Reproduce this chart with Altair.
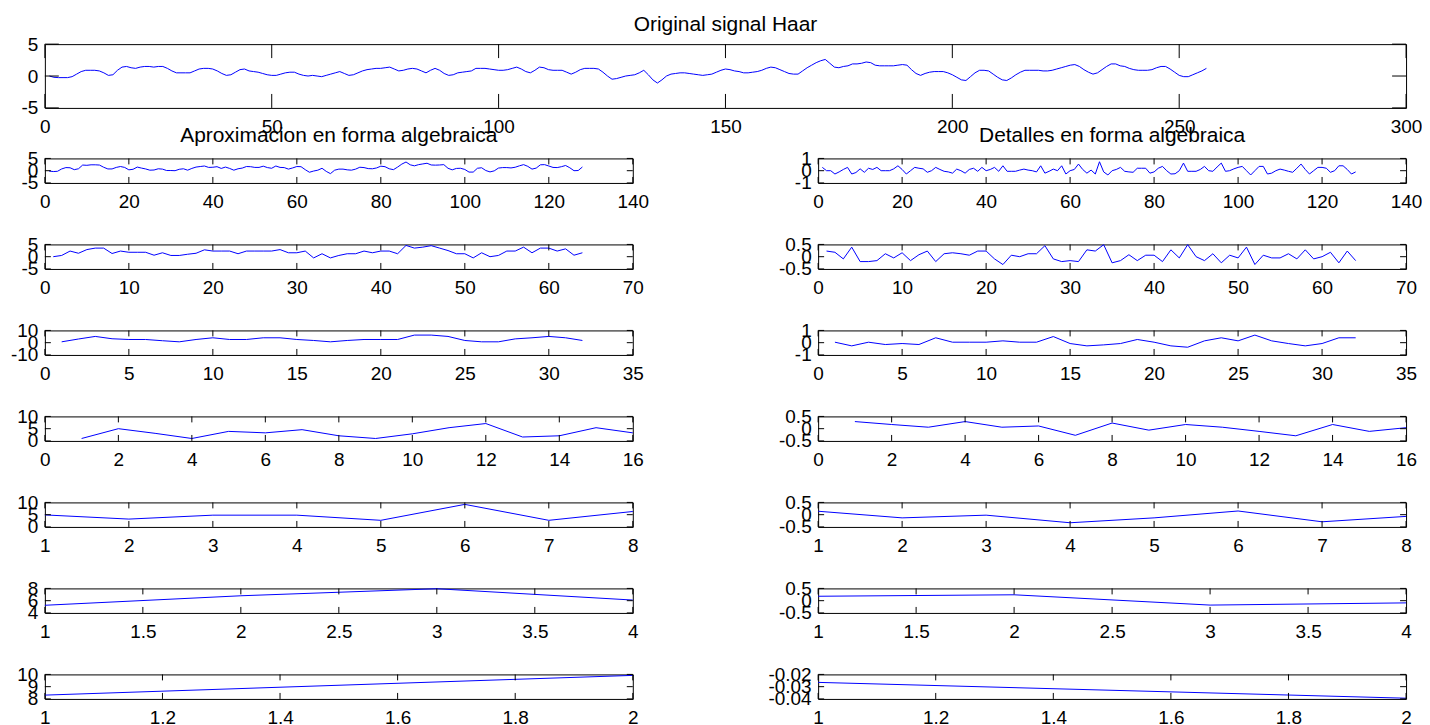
import altair as alt
import pandas as pd

# ---------------- data ----------------
original = [
    0.0, -0.2, -0.25, -0.25, -0.25, -0.1, 0.3, 0.7, 0.9, 0.9,
    0.9, 0.8, 0.5, 0.1, 0.2, 0.9, 1.4, 1.5, 1.3, 1.2,
    1.4, 1.5, 1.5, 1.4, 1.5, 1.5, 1.2, 0.8, 0.5, 0.5,
    0.5, 0.5, 0.8, 1.1, 1.2, 1.2, 1.1, 0.8, 0.4, 0.1,
    0.2, 0.6, 1.0, 1.1, 0.8, 0.7, 0.6, 0.4, 0.2, 0.1,
    0.1, 0.3, 0.5, 0.6, 0.6, 0.3, 0.1, 0.0, 0.1, 0.0,
    -0.1, 0.1, 0.3, 0.5, 0.7, 0.4, 0.1, 0.2, 0.5, 0.8,
    1.0, 1.1, 1.2, 1.2, 1.3, 1.4, 1.1, 0.8, 0.9, 1.1,
    1.2, 1.1, 0.8, 0.5, 0.9, 1.2, 0.9, 0.4, 0.1, 0.2,
    0.5, 0.6, 0.7, 0.8, 1.2, 1.2, 1.2, 1.1, 1.0, 0.9,
    0.9, 1.0, 1.2, 1.4, 1.1, 0.7, 0.5, 0.9, 1.4, 1.3,
    1.0, 0.9, 0.9, 0.9, 0.6, 0.3, 0.6, 1.0, 1.2, 1.2,
    1.2, 1.1, 0.6, 0.0, -0.5, -0.4, -0.2, 0.0, 0.1, 0.2,
    0.5, 0.9, 0.2, -0.6, -1.1, -0.6, 0.0, 0.3, 0.4, 0.5,
    0.5, 0.4, 0.3, 0.2, 0.1, 0.2, 0.3, 0.6, 0.9, 1.1,
    1.0, 0.8, 0.7, 0.5, 0.5, 0.6, 0.7, 0.9, 1.2, 1.4,
    1.3, 1.0, 0.7, 0.4, 0.3, 0.3, 0.8, 1.3, 1.7, 2.1,
    2.4, 2.6, 2.0, 1.4, 1.3, 1.5, 1.6, 1.9, 1.9, 2.0,
    2.2, 2.1, 1.7, 1.6, 1.6, 1.6, 1.6, 1.7, 1.8, 1.7,
    1.0, 0.4, 0.1, 0.4, 0.6, 0.7, 0.7, 0.7, 0.5, 0.2,
    -0.2, -0.6, -0.7, -0.1, 0.5, 0.9, 0.9, 0.8, 0.3, -0.2,
    -0.6, -0.7, -0.3, 0.2, 0.6, 0.9, 0.9, 0.9, 0.9, 0.8,
    0.8, 0.9, 1.1, 1.3, 1.5, 1.7, 1.8, 1.5, 1.0, 0.6,
    0.3, 0.5, 1.0, 1.5, 1.9, 1.9, 1.6, 1.5, 1.2, 1.0,
    0.9, 0.9, 0.9, 1.0, 1.3, 1.5, 1.5, 1.1, 0.6, 0.1,
    -0.1, -0.1, 0.2, 0.5, 0.8, 1.2,
]

a1 = [
    -0.14, -0.35, -0.25, 0.71, 1.27, 1.2, 0.42, 0.78, 2.3, 2.2,
    2.4, 2.4, 2.3, 1.41, 0.71, 0.71, 1.34, 1.7, 1.34, 0.35,
    0.57, 1.48, 1.06, 0.71, 0.21, 0.28, 0.78, 0.64, 0.07, 0.07,
    0.0, 0.57, 0.78, 0.21, 0.92, 1.48, 1.7, 1.91, 1.34, 1.41,
    1.63, 0.92, 1.48, 0.92, 0.21, 0.78, 1.06, 1.7, 1.63, 1.34,
    1.34, 1.84, 1.27, 0.99, 1.91, 1.34, 1.27, 0.64, 1.13, 1.7,
    1.63, 0.42, -0.64, -0.14, 0.21, 0.99, -0.28, -1.2, 0.21, 0.64,
    0.64, 0.35, 0.21, 0.64, 1.41, 1.27, 0.85, 0.78, 1.13, 1.84,
    1.63, 0.78, 0.42, 1.48, 2.69, 3.54, 2.4, 1.98, 2.47, 2.76,
    3.04, 2.33, 2.26, 2.33, 2.47, 0.99, 0.35, 0.92, 0.99, 0.5,
    -0.57, -0.57, 0.99, 1.2, 0.07, -0.5, -0.07, 1.06, 1.27, 1.27,
    1.13, 1.41, 1.98, 2.47, 1.77, 0.64, 1.06, 2.4, 2.47, 1.91,
    1.34, 1.27, 1.63, 2.12, 1.2, 0.0, 0.07, 1.5,
]
d1 = [
    0.27, 0.0, 0.0, -0.27, -0.1, 0.1, 0.27, -0.27, -0.15, 0.15,
    -0.13, 0.2, 0.1, 0.27, 0.0, 0.0, 0.0, 0.15, 0.4, 0.1,
    -0.27, 0.0, 0.27, 0.2, 0.15, -0.13, 0.0, 0.27, 0.1, -0.05,
    -0.1, -0.2, 0.13, 0.0, -0.2, 0.1, 0.2, -0.05, 0.27, 0.0,
    0.1, 0.27, -0.05, 0.4, -0.05, -0.05, -0.05, 0.05, 0.13, 0.05,
    0.0, -0.1, 0.4, -0.2, -0.05, 0.13, 0.0, 0.4, -0.27, 0.0,
    0.1, 0.54, 0.1, -0.2, 0.05, -0.27, 0.73, -0.1, -0.35, 0.0,
    0.1, 0.27, -0.05, -0.1, -0.13, 0.2, 0.2, 0.2, -0.2, -0.1,
    0.2, 0.35, 0.0, -0.27, -0.25, 0.0, 0.62, -0.05, -0.05, -0.05,
    0.1, 0.35, 0.0, -0.05, 0.3, 0.62, -0.05, 0.0, 0.15, 0.27,
    0.35, 0.0, -0.35, 0.0, 0.35, 0.35, -0.27, -0.2, 0.0, 0.13,
    0.05, -0.05, -0.13, 0.2, 0.54, 0.1, -0.27, 0.0, 0.27, 0.27,
    0.2, -0.13, 0.0, 0.4, 0.4, 0.1, -0.27, -0.1,
]
a2 = [
    0.0, 0.5, 2.3, 1.4, 2.9, 3.5, 3.5, 1.3, 2.3, 1.8,
    1.8, 1.8, 0.6, 1.6, 0.5, 0.5, 1.0, 1.4, 2.8, 2.3,
    2.3, 2.3, 1.2, 2.3, 2.3, 2.3, 2.3, 2.9, 1.6, 1.6,
    2.3, -0.5, 1.2, -0.5, 0.5, 1.2, 1.2, 2.3, 1.6, 2.3,
    2.3, 1.2, 4.6, 3.5, 3.9, 4.5, 3.5, 2.5, 1.2, 1.2,
    -0.5, 1.6, 0.0, 0.5, 2.3, 2.3, 3.9, 1.6, 3.5, 3.5,
    2.3, 3.2, 0.6, 1.6,
]
d2 = [
    0.23, 0.18, -0.09, 0.39, -0.2, -0.2, -0.16, 0.12, -0.05, 0.16,
    -0.16, 0.08, 0.23, -0.2, 0.12, 0.16, 0.12, 0.06, 0.23, 0.23,
    -0.09, -0.32, 0.06, 0.0, 0.12, 0.12, 0.45, -0.09, -0.2, -0.16,
    -0.2, 0.28, 0.23, 0.49, -0.25, -0.16, 0.08, -0.16, 0.06, 0.06,
    -0.2, 0.28, -0.05, 0.49, 0.0, -0.16, 0.12, -0.25, 0.06, -0.05,
    0.39, -0.32, 0.06, -0.05, -0.05, 0.12, -0.09, 0.28, -0.09, 0.0,
    0.18, -0.25, 0.23, -0.16,
]
a3 = [
    0.7, 3.0, 5.1, 3.2, 2.6, 2.6, 1.6, 0.7, 2.6, 4.0,
    2.6, 2.6, 4.0, 4.0, 2.6, 1.8, 0.7, 1.8, 2.6, 2.6,
    2.6, 6.2, 6.2, 5.1, 1.8, 0.7, 0.7, 3.1, 4.0, 5.1,
    4.0, 1.8,
]
d3 = [
    0.04, -0.26, 0.04, -0.15, -0.07, -0.15, 0.4, 0.04, 0.04, 0.04,
    0.15, 0.04, 0.04, 0.5, -0.07, -0.26, -0.18, -0.07, 0.26, 0.04,
    -0.26, -0.37, 0.15, 0.4, 0.15, 0.62, 0.15, -0.07, -0.26, -0.07,
    0.4, 0.4,
]
a4 = [1.0, 5.0, 3.1, 1.0, 3.9, 3.3, 4.6, 2.1, 1.0, 2.9, 5.4, 7.1, 1.6, 2.1, 5.4, 3.3]
d4 = [0.29, 0.17, 0.06, 0.29, 0.06, 0.11, -0.27, 0.23, -0.06, 0.17, 0.06, -0.11, -0.29, 0.17, -0.11, 0.04]
a5 = [4.9, 3.2, 4.8, 4.8, 2.7, 9.2, 2.7, 6.3]
d5 = [0.14, -0.13, -0.02, -0.33, -0.13, 0.15, -0.29, -0.07]
a6 = [5.25, 6.8, 7.95, 6.1]
d6 = [0.18, 0.24, -0.18, -0.09]
a7 = [8.31, 9.92]
d7 = [-0.0265, -0.0394]

# tick labels
x_ticks_top = [0, 50, 100, 150, 200, 250, 300]
y_ticks_top = [-5, 0, 5]
x_ticks_rows = [
    [0, 20, 40, 60, 80, 100, 120, 140],
    [0, 10, 20, 30, 40, 50, 60, 70],
    [0, 5, 10, 15, 20, 25, 30, 35],
    [0, 2, 4, 6, 8, 10, 12, 14, 16],
    [1, 2, 3, 4, 5, 6, 7, 8],
    [1, 1.5, 2, 2.5, 3, 3.5, 4],
    [1, 1.2, 1.4, 1.6, 1.8, 2],
]
y_ticks_left = [[-5, 0, 5], [-5, 0, 5], [-10, 0, 10], [0, 5, 10], [0, 5, 10], [4, 6, 8], [8, 9, 10]]
y_ticks_right = [[-1, 0, 1], [-0.5, 0, 0.5], [-1, 0, 1], [-0.5, 0, 0.5], [-0.5, 0, 0.5], [-0.5, 0, 0.5], [-0.04, -0.03, -0.02]]

title_top = "Original signal Haar"
title_left = "Aproximacion en forma algebraica"
title_right = "Detalles en forma algebraica"

approx = [a1, a2, a3, a4, a5, a6, a7]
detail = [d1, d2, d3, d4, d5, d6, d7]

# ---------------- styling ----------------
FONT = "Liberation Sans"
BLUE = "#0000ff"
LABEL_EXPR = "'' + datum.value"


def panel(values, xticks, yticks, width, height, ticklen, title=None, title_offset=1):
    df = pd.DataFrame({"n": list(range(1, len(values) + 1)), "v": values})
    xs = alt.Scale(domain=[xticks[0], xticks[-1]], nice=False, zero=False)
    ys = alt.Scale(domain=[yticks[0], yticks[-1]], nice=False, zero=False)
    xaxis = alt.Axis(values=xticks, labelExpr=LABEL_EXPR, title=None,
                     labelPadding=10, labelAlign="center", labelBaseline="top")
    yaxis = alt.Axis(values=yticks, labelExpr=LABEL_EXPR, title=None,
                     labelPadding=7, labelAlign="right", labelBaseline="middle")
    line = alt.Chart(df).mark_line(color=BLUE, strokeWidth=1).encode(
        x=alt.X("n:Q", scale=xs, axis=xaxis),
        y=alt.Y("v:Q", scale=ys, axis=yaxis),
    )
    xt = pd.DataFrame({"t": xticks})
    yt = pd.DataFrame({"t": yticks})
    rule = dict(color="black", strokeWidth=1)
    tx_top = alt.Chart(xt).mark_rule(**rule).encode(
        x=alt.X("t:Q", scale=xs, axis=xaxis), y=alt.value(0), y2=alt.value(ticklen))
    tx_bot = alt.Chart(xt).mark_rule(**rule).encode(
        x=alt.X("t:Q", scale=xs, axis=xaxis), y=alt.value(height - ticklen), y2=alt.value(height))
    ty_left = alt.Chart(yt).mark_rule(**rule).encode(
        y=alt.Y("t:Q", scale=ys, axis=yaxis), x=alt.value(0), x2=alt.value(ticklen))
    ty_right = alt.Chart(yt).mark_rule(**rule).encode(
        y=alt.Y("t:Q", scale=ys, axis=yaxis), x=alt.value(width - ticklen), x2=alt.value(width))
    ch = alt.layer(line, tx_top, tx_bot, ty_left, ty_right).properties(width=width, height=height)
    if title:
        ch = ch.properties(title=alt.TitleParams(
            text=title, font=FONT, fontSize=21, fontWeight="normal", color="black",
            anchor="middle", frame="group", offset=title_offset))
    return ch


top = panel(original, x_ticks_top, y_ticks_top, 1366, 64, 14, title_top, 0.5)

RW, RH = 590, 24.6
rows = []
for i in range(7):
    left = panel(approx[i], x_ticks_rows[i], y_ticks_left[i], RW, RH, 6,
                 title_left if i == 0 else None, 3.2)
    right = panel(detail[i], x_ticks_rows[i], y_ticks_right[i], RW, RH, 6,
                  title_right if i == 0 else None, 3.2)
    rows.append(alt.hconcat(left, right, spacing=186, bounds="flush"))

chart = alt.vconcat(
    top,
    alt.vconcat(*rows, spacing=86.3, bounds="flush"),
    spacing=50.7,
    bounds="flush",
).properties(
    autosize=alt.AutoSizeParams(type="none"),
    padding={"left": 37, "top": 35, "right": 1382, "bottom": 682},
    background="white",
).configure_view(
    stroke="black", strokeWidth=1
).configure_axis(
    domain=False, ticks=False, grid=False,
    labelFont=FONT, labelFontSize=19, labelColor="black",
    labelOverlap=False, labelFlush=False, labelBound=False,
)

chart.save("out.html", embed_options={"renderer": "svg", "actions": False})
